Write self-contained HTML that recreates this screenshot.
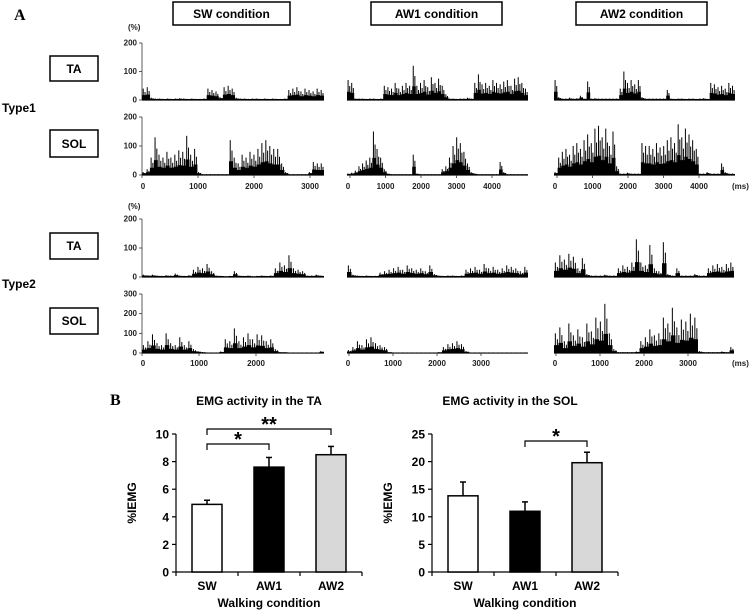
<!DOCTYPE html>
<html><head><meta charset="utf-8"><style>
html,body{margin:0;padding:0;background:#fff;}
svg{display:block;font-family:"Liberation Sans",sans-serif;}
.box{fill:#fff;stroke:#000;stroke-width:1.5}
.bl{font-weight:bold;font-size:12px}
.tk{font-size:8px;font-weight:bold;fill:#222}
</style></head><body>
<svg id="fig" width="750" height="612" viewBox="0 0 750 612" xmlns="http://www.w3.org/2000/svg">
<text x="14" y="20" font-family="Liberation Serif" font-weight="bold" font-size="16">A</text>
<text x="110" y="405" font-family="Liberation Serif" font-weight="bold" font-size="16">B</text>
<g><rect class="box" x="173" y="2" width="117" height="23"/><text class="bl" x="231.5" y="18" text-anchor="middle">SW  condition</text></g>
<g><rect class="box" x="371" y="2" width="131" height="23"/><text class="bl" x="436.5" y="18" text-anchor="middle">AW1  condition</text></g>
<g><rect class="box" x="576" y="2" width="131" height="23"/><text class="bl" x="641.5" y="18" text-anchor="middle">AW2  condition</text></g>
<text class="bl" x="2" y="112">Type1</text>
<text class="bl" x="2" y="288">Type2</text>
<g><rect class="box" x="50" y="56" width="48" height="25"/><text class="bl" x="74" y="73" text-anchor="middle">TA</text></g>
<g><rect class="box" x="50" y="130" width="48" height="27"/><text class="bl" x="74" y="148" text-anchor="middle">SOL</text></g>
<g><rect class="box" x="50" y="233" width="48" height="26"/><text class="bl" x="74" y="250" text-anchor="middle">TA</text></g>
<g><rect class="box" x="50" y="308" width="48" height="26"/><text class="bl" x="74" y="325" text-anchor="middle">SOL</text></g>
<text class="tk" x="128" y="30" font-weight="normal">(%)</text>
<text class="tk" x="128" y="209" font-weight="normal">(%)</text>
<text class="tk" x="732" y="189" font-weight="normal">(ms)</text>
<text class="tk" x="732" y="366" font-weight="normal">(ms)</text>
<g id="traces"></g>
<g id="bars"></g>
</svg>
<script>
// ---- EMG trace data (% amplitude, evenly sampled over each trace duration) ----
const t1SwTa=[40,45,8,5,5,4,5,4,5,6,5,4,5,4,4,5,40,35,30,10,45,50,40,8,5,5,4,5,5,4,5,4,5,4,4,5,35,40,45,30,40,35,30,40,35];
const t1SwSol=[10,20,60,130,70,60,80,60,70,85,80,135,70,90,10,3,3,3,3,3,3,3,120,60,40,70,60,80,70,90,110,120,100,90,90,40,10,3,3,3,3,3,10,45,40,40];
const t1Aw1Ta=[70,60,5,5,5,4,5,5,4,5,50,45,40,60,40,50,60,50,120,50,60,70,45,80,60,75,50,20,5,5,4,5,5,8,5,60,90,55,60,50,70,60,55,65,70,50,75,80,60,40];
const t1Aw1Sol=[5,8,15,30,40,50,60,150,90,60,20,5,3,3,3,3,3,3,70,5,3,3,3,3,3,3,20,30,60,100,130,110,80,40,10,5,3,3,3,3,3,3,45,10,3,3,3,3,3,3];
const t1Aw2Ta=[70,10,5,5,8,5,6,15,5,65,5,6,5,5,5,5,5,5,40,100,60,70,55,70,10,5,5,5,5,5,5,35,5,4,5,5,4,5,5,4,5,6,4,60,55,45,50,40,60,50];
const t1Aw2Sol=[10,60,80,90,70,100,110,90,120,140,110,160,170,130,160,100,150,30,5,5,8,5,5,5,110,100,100,90,110,95,100,120,130,110,175,130,160,140,120,90,5,5,10,5,5,5,40,10,5,5];
const t2SwTa=[8,6,8,5,4,6,5,12,5,4,6,25,35,30,45,20,5,4,3,4,20,5,4,5,3,4,5,4,5,30,50,40,75,30,25,20,5,5,8,5];
const t2SwSol=[40,60,95,50,40,100,50,40,80,40,60,20,10,5,3,3,3,8,70,60,125,60,80,100,70,95,90,60,70,20,5,4,3,3,3,3,3,3,3,10];
const t2Aw1Ta=[40,8,5,4,5,4,4,15,20,25,30,35,25,40,30,25,30,20,40,10,5,4,5,5,4,5,25,30,35,25,45,30,35,25,30,40,35,30,20,35];
const t2Aw1Sol=[15,30,60,40,70,80,50,40,30,5,3,3,3,3,3,3,3,3,3,3,4,30,45,50,60,45,10,3,3,3,3,3,3,3,3,3,3,3,3,3];
const t2Aw2Ta=[50,75,60,80,70,30,65,10,5,5,5,8,5,5,30,40,35,50,130,50,40,110,30,20,120,10,5,30,5,5,5,10,5,5,30,40,45,35,45,50];
const t2Aw2Sol=[100,130,60,150,90,120,80,150,110,180,160,250,100,20,5,5,5,5,8,60,80,120,90,100,180,150,230,130,170,160,200,180,10,5,5,5,5,8,5,30];
// tick labels
const type1Col1Ticks=[0,1000,2000,3000];
const type1Col2Ticks=[0,1000,2000,3000,4000];
const type1Col3Ticks=[0,1000,2000,3000,4000];
const type2Col1Ticks=[0,1000,2000];
const type2Col2Ticks=[0,1000,2000,3000];
const type2Col3Ticks=[0,1000,2000,3000];
const yTicks200=[0,100,200];
const yTicks300=[0,100,200,300];
// ---- bar chart data ----
const barCats=["SW","AW1","AW2"];
const taMeans=[4.9,7.6,8.5];
const taErrs=[0.3,0.7,0.6];
const solMeans=[13.8,11.0,19.8];
const solErrs=[2.5,1.7,1.9];
const taTicks=[0,2,4,6,8,10];
const solTicks=[0,5,10,15,20,25];
</script>
<script>
const NS="http://www.w3.org/2000/svg";
function mk(tag,attrs,parent){const e=document.createElementNS(NS,tag);for(const k in attrs)e.setAttribute(k,attrs[k]);parent.appendChild(e);return e;}
const T=document.getElementById('traces');
const cols1=[{a:142,b:324,x0:142,k:56},{a:347,b:528,x0:350,k:35.5},{a:554,b:735,x0:557,k:35.5}];
const cols2=[{a:142,b:324,x0:142,k:57},{a:347,b:528,x0:349,k:44},{a:554,b:734,x0:556,k:44}];
const rows=[
 {name:'type1-ta',y0:100,ytop:43,max:200,cols:cols1,data:[t1SwTa,t1Aw1Ta,t1Aw2Ta],ticks:null,yt:yTicks200},
 {name:'type1-sol',y0:175,ytop:117,max:200,cols:cols1,data:[t1SwSol,t1Aw1Sol,t1Aw2Sol],ticks:[type1Col1Ticks,type1Col2Ticks,type1Col3Ticks],tickY:189,yt:yTicks200},
 {name:'type2-ta',y0:277,ytop:219,max:200,cols:cols2,data:[t2SwTa,t2Aw1Ta,t2Aw2Ta],ticks:null,yt:yTicks200},
 {name:'type2-sol',y0:353,ytop:294,max:300,cols:cols2,data:[t2SwSol,t2Aw1Sol,t2Aw2Sol],ticks:[type2Col1Ticks,type2Col2Ticks,type2Col3Ticks],tickY:366,yt:yTicks300}
];
const condNames=['sw','aw1','aw2'];
rows.forEach(r=>{
  const yS=v=>r.y0-(v/r.max)*(r.y0-r.ytop);
  const ya=mk('g',{},T);
  
  
  mk('line',{x1:142,x2:142,y1:r.ytop,y2:r.y0,stroke:'#333','stroke-width':0.8},ya);
  r.yt.forEach(v=>{
    mk('line',{x1:139,x2:142,y1:yS(v),y2:yS(v),stroke:'#333','stroke-width':0.8},ya);
    const t=mk('text',{x:137,y:yS(v)+2.5,'text-anchor':'end',class:'tk'},ya);t.textContent=v;
  });
  r.cols.forEach((c,ci)=>{
    const g=mk('g',{},T);
    
    
    const d=r.data[ci],n=d.length,w=(c.b-c.a)/n;
    let p='M'+c.a+','+r.y0;
    d.forEach((v,i)=>{const x1=c.a+i*w,x2=x1+w,h=yS(v*0.38+Math.min(v,4)*0.5);p+=' L'+x1.toFixed(1)+','+h.toFixed(1)+' L'+x2.toFixed(1)+','+h.toFixed(1);});
    p+=' L'+c.b+','+r.y0+' Z';
    mk('path',{d:p,fill:'#000'},g);
    d.forEach((v,i)=>{
      const xa=c.a+(i+0.3)*w,xb=c.a+(i+0.75)*w;
      mk('line',{x1:xa,x2:xa,y1:r.y0,y2:yS(v),stroke:'#000','stroke-width':1},g);
      mk('line',{x1:xb,x2:xb,y1:r.y0,y2:yS(v*0.7),stroke:'#000','stroke-width':1},g);
    });
    const xa=mk('g',{},T);
    
    
    mk('line',{x1:c.a,x2:c.b,y1:r.y0+0.5,y2:r.y0+0.5,stroke:'#333','stroke-width':0.8},xa);
    if(r.ticks){
      r.ticks[ci].forEach(t=>{
        const x=c.x0+c.k*t/1000;
        mk('line',{x1:x,x2:x,y1:r.y0,y2:r.y0+3,stroke:'#333','stroke-width':0.8},xa);
        const tx=mk('text',{x:(t===0?c.a+1:x),y:r.tickY,'text-anchor':'middle',class:'tk'},xa);tx.textContent=t;
      });
    }
  });
});
const B=document.getElementById('bars');
function barChart(name,title,titleX,ax0,means,errs,ticks,max,brackets){
  const g=mk('g',{},B);
  
  
  const y0=572,yt=434,ax1=ax0+186,cw=62;
  const yS=v=>y0-(v/max)*(y0-yt);
  const xS=i=>ax0+31+cw*i;
  const tt=mk('text',{x:titleX,y:405,'text-anchor':'middle','font-weight':'bold','font-size':12},g);tt.textContent=title;
  
  
  mk('line',{x1:ax0,x2:ax0,y1:yt,y2:y0,stroke:'#000','stroke-width':1.2},g);
  mk('line',{x1:ax0,x2:ax1,y1:y0,y2:y0,stroke:'#000','stroke-width':1.2},g);
  ticks.forEach(v=>{
    mk('line',{x1:ax0-4,x2:ax0,y1:yS(v),y2:yS(v),stroke:'#000','stroke-width':1.2},g);
    const t=mk('text',{x:ax0-7,y:yS(v)+4.5,'text-anchor':'end','font-weight':'bold','font-size':12},g);t.textContent=v;
  });
  [0,1,2,3].forEach(i=>{const x=ax0+cw*i;mk('line',{x1:x,x2:x,y1:y0,y2:y0+4,stroke:'#000','stroke-width':1.2},g);});
  const fills=['#fff','#000','#d8d8d8'];
  means.forEach((m,i)=>{
    const bg=mk('g',{},g);
    
    
    const x=xS(i);
    mk('line',{x1:x,x2:x,y1:yS(m),y2:yS(m+errs[i]),stroke:'#000','stroke-width':1.5},bg);
    mk('line',{x1:x-3,x2:x+3,y1:yS(m+errs[i]),y2:yS(m+errs[i]),stroke:'#000','stroke-width':1.5},bg);
    mk('rect',{x:x-15,y:yS(m),width:30,height:y0-yS(m),fill:fills[i],stroke:'#000','stroke-width':1.5},bg);
    const l=mk('text',{x:x,y:590,'text-anchor':'middle','font-weight':'bold','font-size':12},g);l.textContent=barCats[i];
  });
  const yl=mk('text',{x:0,y:0,'text-anchor':'middle','font-weight':'bold','font-size':12,transform:'translate('+(ax0-40)+',503) rotate(-90)'},g);yl.textContent='%IEMG';
  
  
  const xl=mk('text',{x:ax0+93,y:607,'text-anchor':'middle','font-weight':'bold','font-size':12},g);xl.textContent='Walking condition';
  
  
  brackets.forEach(b=>{
    const bk=mk('g',{},g);
    
    
    const xa=xS(b.a),xb=xS(b.b);
    mk('path',{d:'M'+xa+','+(b.y+6)+' V'+b.y+' H'+xb+' V'+(b.y+6),fill:'none',stroke:'#000','stroke-width':1.2},bk);
    const s=mk('text',{x:(xa+xb)/2,y:b.y+2,'text-anchor':'middle','font-weight':'bold','font-size':20},bk);s.textContent=b.s;
  });
}
barChart('ta-bar-chart','EMG activity in the TA',259,176,taMeans,taErrs,taTicks,10,[{a:0,b:1,y:444,s:'*'},{a:0,b:2,y:429,s:'**'}]);
barChart('sol-bar-chart','EMG activity in the SOL',510,432,solMeans,solErrs,solTicks,25,[{a:1,b:2,y:441,s:'*'}]);
</script>
</body></html>
